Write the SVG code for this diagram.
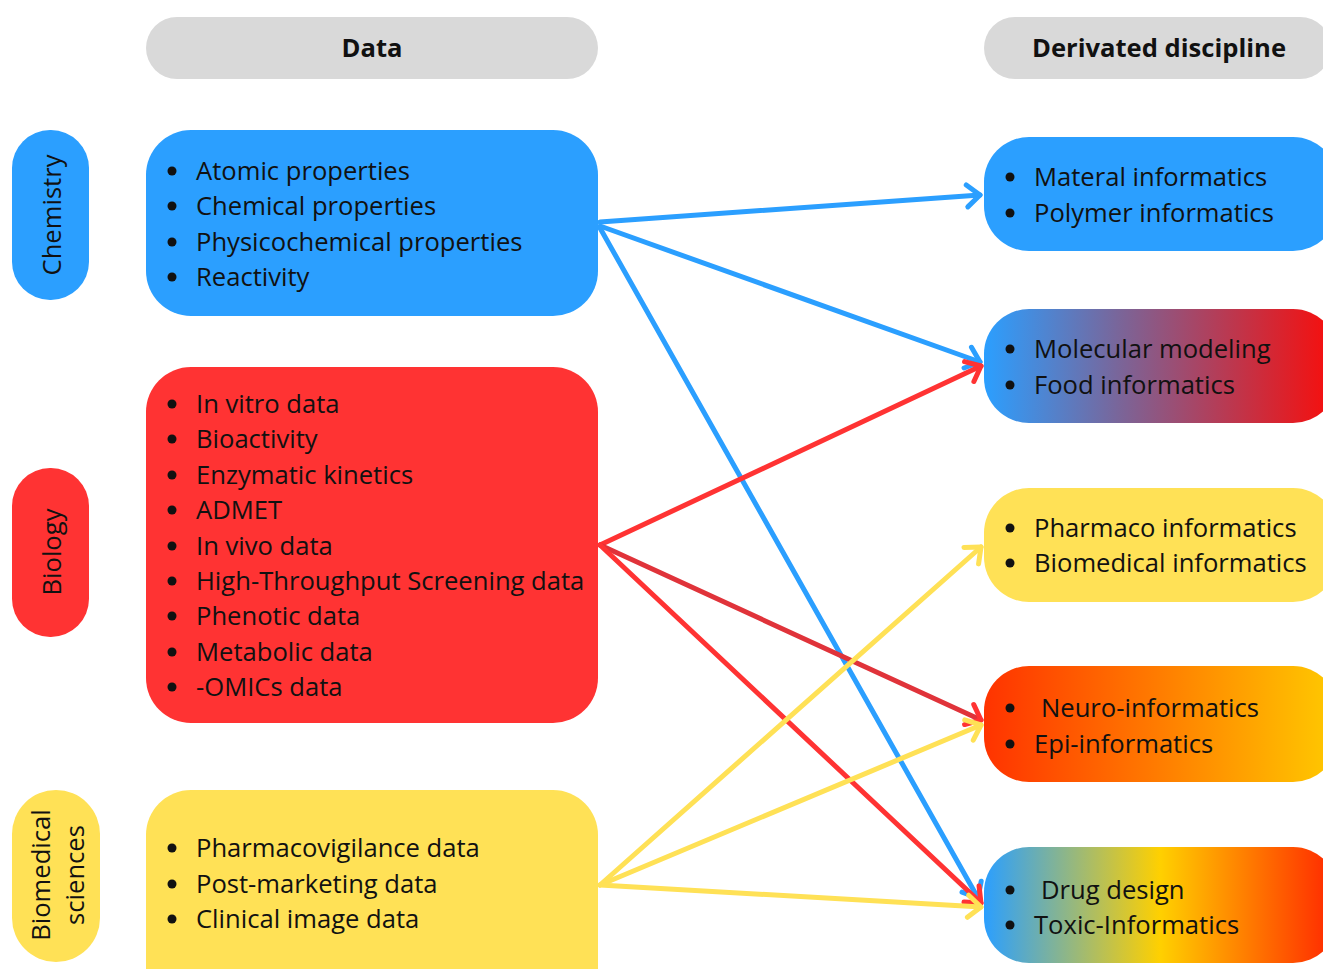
<svg xmlns="http://www.w3.org/2000/svg" width="1323" height="969" viewBox="0 0 1323 969">
<style>
.t{font-family:"Open Sans","Noto Sans","Liberation Sans",sans-serif;font-size:25.6px;fill:#111}
.h{font-family:"Open Sans","Noto Sans","Liberation Sans",sans-serif;font-size:25.6px;font-weight:bold;fill:#111}
.d{fill:#111}
.c{fill:none;stroke-width:5;stroke-linecap:round}
.b{stroke:#2B9FFF}.r{stroke:#FF3333}.y{stroke:#FFE156}
</style>
<defs>
<marker id="mb" markerUnits="userSpaceOnUse" markerWidth="40" markerHeight="40" viewBox="-20 -20 40 40" refX="0" refY="0" orient="auto"><path d="M-13,-11 L0,0 L-13,11" fill="none" stroke="#2B9FFF" stroke-width="5" stroke-linecap="round" stroke-linejoin="round"/></marker>
<marker id="mr" markerUnits="userSpaceOnUse" markerWidth="40" markerHeight="40" viewBox="-20 -20 40 40" refX="0" refY="0" orient="auto"><path d="M-13,-11 L0,0 L-13,11" fill="none" stroke="#FF3333" stroke-width="5" stroke-linecap="round" stroke-linejoin="round"/></marker>
<marker id="my" markerUnits="userSpaceOnUse" markerWidth="40" markerHeight="40" viewBox="-20 -20 40 40" refX="0" refY="0" orient="auto"><path d="M-13,-11 L0,0 L-13,11" fill="none" stroke="#FFE156" stroke-width="5" stroke-linecap="round" stroke-linejoin="round"/></marker>
<linearGradient id="g2" gradientUnits="userSpaceOnUse" x1="984" y1="0" x2="1323" y2="0"><stop offset="0" stop-color="#2B9FFF"/><stop offset="0.4" stop-color="#7A6599"/><stop offset="1" stop-color="#F21212"/></linearGradient>
<linearGradient id="g4" gradientUnits="userSpaceOnUse" x1="984" y1="0" x2="1323" y2="0"><stop offset="0" stop-color="#FF3300"/><stop offset="0.5" stop-color="#FF7A00"/><stop offset="1" stop-color="#FFC400"/></linearGradient>
<linearGradient id="g5" gradientUnits="userSpaceOnUse" x1="984" y1="0" x2="1323" y2="0"><stop offset="0" stop-color="#2B9FFF"/><stop offset="0.52" stop-color="#FFD000"/><stop offset="1" stop-color="#FF3300"/></linearGradient>
</defs>
<rect width="1323" height="969" fill="#fff"/>

<g id="header-data"><rect x="146" y="17" width="452" height="62" rx="31" fill="#D9D9D9"/><text class="h" x="372" y="57" text-anchor="middle">Data</text></g>
<g id="header-derivated"><rect x="984" y="17" width="347" height="62" rx="31" fill="#D9D9D9"/><text class="h" x="1159" y="57" text-anchor="middle">Derivated discipline</text></g>

<g id="label-chemistry"><rect x="12" y="130" width="77" height="170" rx="38" fill="#2B9FFF"/><text class="t" transform="translate(61,215) rotate(-90)" text-anchor="middle">Chemistry</text></g>
<g id="label-biology"><rect x="12" y="468" width="77" height="169" rx="38" fill="#FF3333"/><text class="t" transform="translate(61,552) rotate(-90)" text-anchor="middle">Biology</text></g>
<g id="label-biomedical"><rect x="12" y="790" width="88" height="172" rx="44" fill="#FFE156"/><text class="t" transform="translate(50,875) rotate(-90)" text-anchor="middle">Biomedical</text><text class="t" transform="translate(84,875) rotate(-90)" text-anchor="middle">sciences</text></g>

<g id="connectors">
<line class="c b" x1="600" y1="222" x2="980" y2="195" marker-end="url(#mb)"/>
<line class="c b" x1="600" y1="226" x2="980" y2="362" marker-end="url(#mb)"/>
<line class="c b" x1="600" y1="228" x2="978" y2="898" marker-end="url(#mb)"/>
<line class="c r" x1="600" y1="545" x2="981" y2="366" marker-end="url(#mr)"/>
<line class="c r" x1="600" y1="545" x2="981" y2="720" stroke-width="7" style="stroke:#E0333A" marker-end="url(#mr)"/>
<line class="c r" x1="600" y1="545" x2="981" y2="903" marker-end="url(#mr)"/>
<line class="c y" x1="600" y1="885" x2="981" y2="547" marker-end="url(#my)"/>
<line class="c y" x1="600" y1="885" x2="981" y2="725" marker-end="url(#my)"/>
<line class="c y" x1="600" y1="885" x2="981" y2="907" marker-end="url(#my)"/>
</g>

<g id="data-chemistry"><rect x="146" y="130" width="452" height="186" rx="45" fill="#2B9FFF"/>
<g class="d"><circle cx="172" cy="171" r="4.5"/><circle cx="172" cy="206" r="4.5"/><circle cx="172" cy="242" r="4.5"/><circle cx="172" cy="277" r="4.5"/></g>
<g class="t"><text x="196" y="180">Atomic properties</text>
<text x="196" y="215">Chemical properties</text>
<text x="196" y="251">Physicochemical properties</text>
<text x="196" y="286">Reactivity</text></g></g>

<g id="data-biology"><rect x="146" y="367" width="452" height="356" rx="45" fill="#FF3333"/>
<g class="d"><circle cx="172" cy="404" r="4.5"/><circle cx="172" cy="439" r="4.5"/><circle cx="172" cy="475" r="4.5"/><circle cx="172" cy="510" r="4.5"/><circle cx="172" cy="546" r="4.5"/><circle cx="172" cy="581" r="4.5"/><circle cx="172" cy="616" r="4.5"/><circle cx="172" cy="652" r="4.5"/><circle cx="172" cy="687" r="4.5"/></g>
<g class="t"><text x="196" y="413">In vitro data</text>
<text x="196" y="448">Bioactivity</text>
<text x="196" y="484">Enzymatic kinetics</text>
<text x="196" y="519">ADMET</text>
<text x="196" y="555">In vivo data</text>
<text x="196" y="590">High-Throughput Screening data</text>
<text x="196" y="625">Phenotic data</text>
<text x="196" y="661">Metabolic data</text>
<text x="196" y="696">-OMICs data</text></g></g>

<g id="data-biomedical"><rect x="146" y="790" width="452" height="230" rx="45" fill="#FFE156"/>
<g class="d"><circle cx="172" cy="848" r="4.5"/><circle cx="172" cy="884" r="4.5"/><circle cx="172" cy="919" r="4.5"/></g>
<g class="t"><text x="196" y="857">Pharmacovigilance data</text>
<text x="196" y="893">Post-marketing data</text>
<text x="196" y="928">Clinical image data</text></g></g>

<g id="disc-1"><rect x="984" y="137" width="354" height="114" rx="45" fill="#2B9FFF"/>
<g class="d"><circle cx="1010" cy="177" r="4.5"/><circle cx="1010" cy="213" r="4.5"/></g>
<g class="t"><text x="1034" y="186">Materal informatics</text>
<text x="1034" y="222">Polymer informatics</text></g></g>

<g id="disc-2"><rect x="984" y="309" width="354" height="114" rx="45" fill="url(#g2)"/>
<g class="d"><circle cx="1010" cy="349" r="4.5"/><circle cx="1010" cy="385" r="4.5"/></g>
<g class="t"><text x="1034" y="358">Molecular modeling</text>
<text x="1034" y="394">Food informatics</text></g></g>

<g id="disc-3"><rect x="984" y="488" width="354" height="114" rx="45" fill="#FFE156"/>
<g class="d"><circle cx="1010" cy="528" r="4.5"/><circle cx="1010" cy="563" r="4.5"/></g>
<g class="t"><text x="1034" y="537">Pharmaco informatics</text>
<text x="1034" y="572">Biomedical informatics</text></g></g>

<g id="disc-4"><rect x="984" y="666" width="354" height="116" rx="45" fill="url(#g4)"/>
<g class="d"><circle cx="1010" cy="708" r="4.5"/><circle cx="1010" cy="744" r="4.5"/></g>
<g class="t"><text x="1041" y="717">Neuro-informatics</text>
<text x="1034" y="753">Epi-informatics</text></g></g>

<g id="disc-5"><rect x="984" y="847" width="354" height="116" rx="45" fill="url(#g5)"/>
<g class="d"><circle cx="1010" cy="890" r="4.5"/><circle cx="1010" cy="925" r="4.5"/></g>
<g class="t"><text x="1041" y="899">Drug design</text>
<text x="1034" y="934">Toxic-Informatics</text></g></g>
</svg>
